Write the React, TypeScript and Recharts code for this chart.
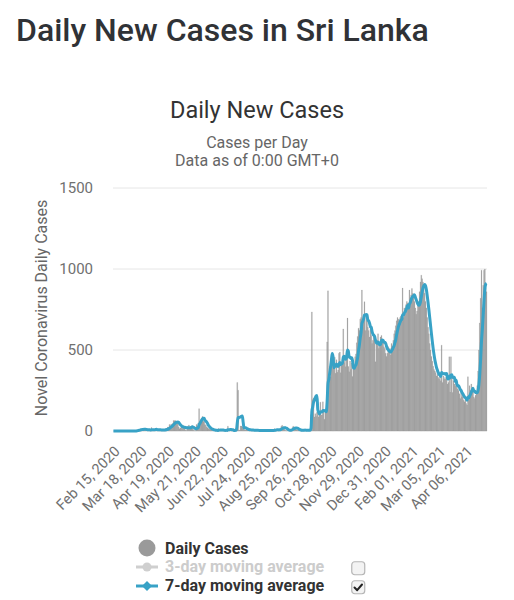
import { ComposedChart, Bar, Line, XAxis, YAxis, CartesianGrid } from "recharts";

// Sri Lanka daily new cases, one row per week starting Feb 15, 2020
const dailyCases = [
  0, 0, 0, 0, 0, 0, 0,
  0, 0, 0, 0, 0, 0, 0,
  0, 0, 0, 0, 0, 0, 0,
  0, 0, 0, 0, 0, 1, 2,
  4, 8, 10, 10, 12, 11, 13,
  5, 10, 11, 11, 4, 4, 4,
  7, 9, 5, 21, 3, 5, 8,
  8, 17, 9, 7, 4, 1, 7,
  3, 13, 8, 5, 8, 3, 15,
  13, 24, 20, 40, 20, 42, 38,
  46, 65, 63, 65, 54, 50, 48,
  25, 14, 18, 27, 15, 35, 29,
  24, 5, 3, 28, 14, 37, 24,
  29, 18, 32, 10, 3, 2, 3,
  40, 30, 50, 138, 60, 70, 80,
  90, 60, 55, 40, 35, 25, 20,
  15, 12, 10, 8, 6, 5, 6,
  0, 4, 6, 3, 2, 16, 7,
  3, 8, 3, 4, 2, 1, 4,
  6, 5, 30, 9, 4, 5, 2,
  1, 2, 4, 1, 15, 11, 300,
  252, 5, 6, 31, 31, 25, 22,
  16, 6, 7, 13, 7, 11, 6,
  3, 5, 2, 11, 5, 4, 4,
  3, 3, 6, 2, 1, 4, 3,
  5, 2, 4, 1, 2, 3, 5,
  1, 3, 5, 2, 4, 2, 6,
  2, 14, 5, 11, 9, 2, 5,
  10, 15, 30, 35, 25, 20, 10,
  3, 2, 4, 5, 3, 7, 8,
  10, 20, 30, 25, 20, 15, 8,
  4, 6, 2, 7, 5, 3, 5,
  6, 4, 10, 2, 4, 0, 4,
  3, 5, 101, 735, 194, 204, 87,
  107, 90, 115, 125, 87, 123, 178,
  98, 100, 180, 121, 73, 120, 141,
  550, 865, 351, 397, 335, 420, 430,
  402, 397, 455, 356, 440, 363, 376,
  480, 487, 360, 405, 442, 630, 422,
  440, 397, 468, 697, 398, 365, 432,
  380, 420, 337, 396, 383, 459, 476,
  545, 584, 635, 620, 690, 700, 870,
  640, 690, 798, 620, 720, 680, 640,
  620, 580, 650, 590, 540, 560, 600,
  560, 427, 540, 560, 600, 510, 530,
  580, 590, 560, 545, 520, 510, 480,
  460, 480, 520, 490, 510, 470, 540,
  520, 560, 600, 620, 650, 680, 700,
  690, 660, 700, 710, 680, 882, 700,
  760, 720, 780, 800, 790, 760, 870,
  820, 840, 880, 850, 830, 800, 760,
  720, 740, 780, 800, 860, 920, 962,
  940, 920, 880, 850, 800, 760, 700,
  640, 600, 540, 500, 460, 430, 400,
  380, 370, 360, 340, 350, 330, 320,
  350, 310, 530, 300, 340, 320, 330,
  320, 350, 290, 300, 458, 240, 458,
  330, 238, 310, 290, 280, 300, 270,
  260, 250, 230, 200, 240, 210, 220,
  190, 180, 200, 170, 160, 335, 190,
  280, 250, 290, 260, 240, 210, 200,
  220, 240, 280, 370, 500, 667, 820,
  993, 760, 900, 993, 1000, 880, 860,
];

// 7-day moving average, same weekly rows
const sevenDayAvg = [
  0, 0, 0, 0, 0, 0, 0,
  0, 0, 0, 0, 0, 0, 0,
  0, 0, 0, 0, 0, 0, 0,
  0, 0, 0, 0, 0, 0.1, 0.4,
  1.0, 2.1, 3.6, 5.0, 6.7, 8.1, 9.7,
  9.9, 10.1, 10.3, 10.4, 9.3, 8.3, 7.0,
  7.3, 7.1, 6.3, 7.7, 7.6, 7.7, 8.3,
  8.4, 9.6, 10.1, 8.1, 8.3, 7.7, 7.6,
  6.9, 6.3, 6.1, 5.9, 6.4, 6.7, 7.9,
  9.3, 10.9, 12.6, 17.6, 19.3, 24.9, 28.1,
  32.9, 38.7, 44.9, 48.4, 53.3, 54.4, 55.9,
  52.9, 45.6, 39.1, 33.7, 28.1, 26.0, 23.3,
  23.1, 21.9, 19.7, 19.9, 19.7, 20.0, 19.3,
  20.0, 21.9, 26.0, 23.4, 21.9, 16.9, 13.9,
  15.4, 17.1, 19.7, 38.0, 46.1, 55.9, 66.9,
  74.0, 78.3, 79.0, 65.0, 61.4, 55.0, 46.4,
  35.7, 28.9, 22.4, 17.9, 13.7, 10.9, 8.9,
  6.7, 5.6, 5.0, 4.3, 3.7, 5.3, 5.4,
  5.9, 6.4, 6.0, 6.1, 6.1, 4.0, 3.6,
  4.0, 3.6, 7.4, 8.1, 8.4, 9.0, 8.7,
  8.0, 7.6, 3.9, 2.7, 4.3, 5.1, 47.7,
  83.6, 84.0, 84.3, 88.6, 90.9, 92.9, 53.1,
  19.4, 19.6, 19.7, 17.1, 13.7, 11.7, 9.4,
  7.6, 7.4, 6.7, 6.4, 6.1, 5.1, 4.9,
  4.9, 4.6, 5.1, 3.9, 3.3, 3.3, 3.1,
  3.4, 3.3, 3.0, 2.9, 3.0, 2.9, 3.1,
  2.6, 2.7, 2.9, 3.0, 3.3, 3.1, 3.3,
  3.4, 5.0, 5.0, 6.3, 7.0, 7.0, 6.9,
  8.0, 8.1, 11.7, 15.1, 17.4, 20.0, 20.7,
  19.7, 17.9, 14.1, 9.9, 6.7, 4.9, 4.6,
  5.6, 8.1, 11.9, 14.7, 17.1, 18.3, 18.3,
  17.4, 15.4, 11.4, 8.9, 6.7, 5.0, 4.6,
  4.9, 4.6, 5.7, 5.0, 4.9, 4.4, 4.3,
  3.9, 4.0, 17.0, 121.7, 148.9, 178.0, 189.9,
  204.7, 216.9, 218.9, 131.7, 116.4, 104.9, 117.9,
  116.6, 118.0, 127.3, 126.7, 124.7, 124.3, 119.0,
  183.6, 292.9, 317.3, 356.7, 394.1, 437.0, 478.3,
  457.1, 390.3, 405.1, 399.3, 414.3, 406.1, 398.4,
  409.6, 422.4, 408.9, 415.9, 416.1, 454.3, 460.9,
  455.1, 442.3, 457.7, 499.4, 493.1, 455.3, 456.7,
  448.1, 451.4, 432.7, 389.7, 387.6, 401.0, 407.3,
  430.9, 454.3, 496.9, 528.9, 572.7, 607.1, 663.4,
  677.0, 692.1, 715.4, 715.4, 719.7, 716.9, 684.0,
  681.1, 665.4, 644.3, 640.0, 614.3, 597.1, 591.4,
  582.9, 561.0, 545.3, 541.0, 549.6, 542.4, 532.4,
  535.3, 558.6, 561.4, 559.3, 547.9, 547.9, 540.7,
  523.6, 507.9, 502.1, 494.3, 492.9, 487.1, 495.7,
  504.3, 515.7, 527.1, 545.7, 565.7, 595.7, 618.6,
  642.9, 657.1, 671.4, 684.3, 688.6, 717.4, 717.4,
  727.4, 736.0, 747.4, 760.3, 776.0, 758.6, 782.9,
  791.4, 808.6, 822.9, 830.0, 835.7, 841.4, 825.7,
  811.4, 797.1, 782.9, 775.7, 780.0, 797.1, 826.0,
  857.4, 883.1, 897.4, 904.6, 896.0, 873.1, 835.7,
  792.9, 747.1, 698.6, 648.6, 600.0, 552.9, 510.0,
  472.9, 440.0, 414.3, 391.4, 375.7, 361.4, 350.0,
  345.7, 337.1, 361.4, 355.7, 354.3, 352.9, 354.3,
  350.0, 355.7, 321.4, 321.4, 338.3, 326.9, 345.1,
  346.6, 330.6, 333.4, 332.0, 306.6, 315.1, 288.3,
  278.3, 280.0, 268.6, 255.7, 250.0, 237.1, 230.0,
  220.0, 210.0, 205.7, 201.4, 190.0, 207.9, 203.6,
  216.4, 226.4, 239.3, 252.1, 263.6, 245.7, 247.1,
  238.6, 237.1, 235.7, 251.4, 288.6, 353.9, 442.4,
  552.9, 627.1, 715.7, 804.7, 876.1, 906.6, 912.3,
];

const tickLabels = [
  "Feb 15, 2020", "Mar 18, 2020", "Apr 19, 2020", "May 21, 2020",
  "Jun 22, 2020", "Jul 24, 2020", "Aug 25, 2020", "Sep 26, 2020",
  "Oct 28, 2020", "Nov 29, 2020", "Dec 31, 2020", "Feb 01, 2021",
  "Mar 05, 2021", "Apr 06, 2021",
];
const yTicks = [0, 500, 1000, 1500];

const MONTHS = ["Jan", "Feb", "Mar", "Apr", "May", "Jun", "Jul", "Aug", "Sep", "Oct", "Nov", "Dec"];
const START = Date.UTC(2020, 1, 15);

const dayLabel = (i: number) => {
  const d = new Date(START + i * 86400000);
  return `${MONTHS[d.getUTCMonth()]} ${String(d.getUTCDate()).padStart(2, "0")}, ${d.getUTCFullYear()}`;
};

const chartData = dailyCases.map((v, i) => ({
  date: dayLabel(i),
  cases: v,
  avg: sevenDayAvg[i],
}));

const FONT = "Roboto, 'Noto Sans', sans-serif";
const BLUE = "#38a2c6";
const GREY_BAR = "#9a9a9a";

const abs = (extra: React.CSSProperties): React.CSSProperties => ({
  position: "absolute",
  whiteSpace: "nowrap",
  ...extra,
});

const Checkbox = ({ top, checked }: { top: number; checked: boolean }) => (
  <svg style={abs({ left: 351, top })} width={15} height={15}>
    <rect x={0.75} y={0.75} width={13} height={13} rx={3} fill="#f3f3f3" stroke="#b5b5b5" strokeWidth={1.2} />
    {checked && (
      <path d="M3.5 7.5 L6.2 10.2 L11 4.5" fill="none" stroke="#222" strokeWidth={2} strokeLinecap="round" strokeLinejoin="round" />
    )}
  </svg>
);

const App = () => {
  return (
    <div style={{ position: "absolute", left: 0, top: 0, width: 514, height: 600, background: "#fff", fontFamily: FONT }}>
      <div style={abs({ left: 16, top: 14, fontSize: 32, lineHeight: "32px", fontWeight: 500, color: "#303236" })}>
        Daily New Cases in Sri Lanka
      </div>

      <div style={abs({ left: 0, width: 514, textAlign: "center", top: 99, fontSize: 23.5, lineHeight: "23.5px", color: "#333" })}>
        Daily New Cases
      </div>
      <div style={abs({ left: 0, width: 514, textAlign: "center", top: 134.5, fontSize: 16, lineHeight: "16px", color: "#666" })}>
        Cases per Day
      </div>
      <div style={abs({ left: 0, width: 514, textAlign: "center", top: 153, fontSize: 16, lineHeight: "16px", color: "#666" })}>
        Data as of 0:00 GMT+0
      </div>

      <div
        style={abs({
          left: 42,
          top: 308,
          transform: "translate(-50%, -50%) rotate(-90deg)",
          fontSize: 16,
          lineHeight: "16px",
          color: "#666",
        })}
      >
        Novel Coronavirus Daily Cases
      </div>

      <div style={{ position: "absolute", left: 0, top: 175 }}>
        <ComposedChart
          width={514}
          height={346}
          data={chartData}
          margin={{ top: 13, right: 27, left: 0, bottom: 0 }}
          barCategoryGap={0}
          barGap={0}
        >
          <CartesianGrid vertical={false} stroke="#e6e6e6" />
          <XAxis
            dataKey="date"
            ticks={tickLabels}
            interval={0}
            angle={-45}
            textAnchor="end"
            height={90}
            tickLine={false}
            axisLine={false}
            tickMargin={8}
            tick={{ fill: "#707070", fontSize: 14.5, fontFamily: FONT }}
          />
          <YAxis
            domain={[0, 1500]}
            ticks={yTicks}
            width={113}
            tickLine={false}
            axisLine={false}
            tickMargin={14}
            tick={{ fill: "#707070", fontSize: 15, fontFamily: FONT }}
          />
          <Bar dataKey="cases" fill={GREY_BAR} stroke={GREY_BAR} strokeWidth={0.2} isAnimationActive={false} />
          <Line
            type="monotone"
            dataKey="avg"
            stroke={BLUE}
            strokeWidth={3}
            dot={false}
            isAnimationActive={false}
          />
        </ComposedChart>
      </div>

      {/* legend */}
      <svg style={abs({ left: 130, top: 535 })} width={34} height={60}>
        <circle cx={17} cy={13} r={8.5} fill={GREY_BAR} />
        <line x1={6} y1={32} x2={28} y2={32} stroke="#cfcfcf" strokeWidth={3} />
        <circle cx={17} cy={32} r={4.5} fill="#cfcfcf" />
        <line x1={6} y1={51} x2={28} y2={51} stroke={BLUE} strokeWidth={3} />
        <path d="M17 46 L22 51 L17 56 L12 51 Z" fill={BLUE} />
      </svg>
      <div style={abs({ left: 165, top: 540.5, fontSize: 16, lineHeight: "16px", fontWeight: 700, color: "#333" })}>
        Daily Cases
      </div>
      <div style={abs({ left: 165, top: 559, fontSize: 16, lineHeight: "16px", fontWeight: 700, color: "#cccccc" })}>
        3-day moving average
      </div>
      <div style={abs({ left: 165, top: 577.5, fontSize: 16, lineHeight: "16px", fontWeight: 700, color: "#333" })}>
        7-day moving average
      </div>
      <Checkbox top={561} checked={false} />
      <Checkbox top={580} checked={true} />
    </div>
  );
};

export default App;
